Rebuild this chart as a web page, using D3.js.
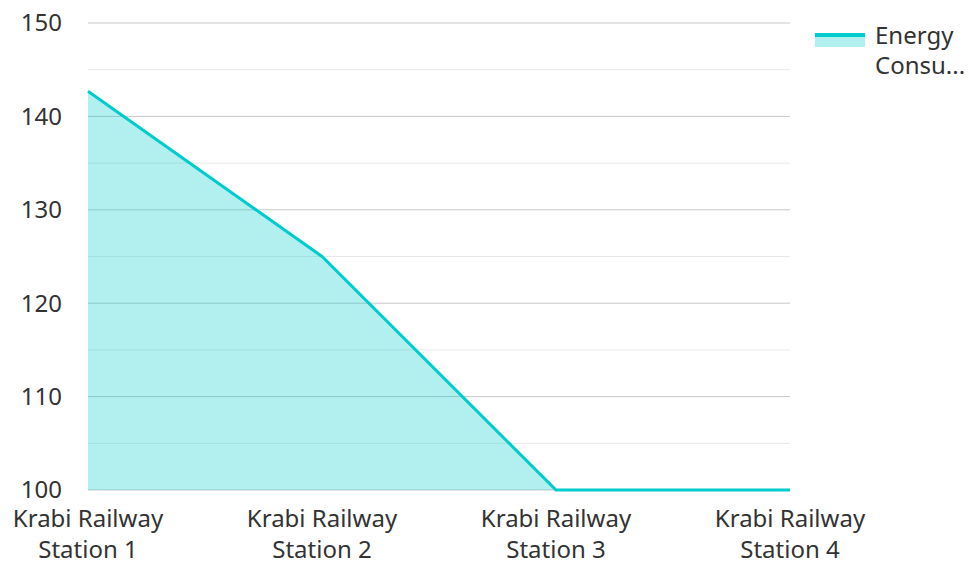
<!DOCTYPE html>
<html>
<head>
<meta charset="utf-8">
<script src="https://cdn.jsdelivr.net/npm/d3@7"></script>
<style>
  body { margin: 0; background: #fff; }
  text { font-family: "Noto Sans", "Open Sans", sans-serif; fill: #333; }
</style>
</head>
<body>
<svg id="chart" width="969" height="562"></svg>
<script>
// data
const stations = ['Krabi Railway Station 1', 'Krabi Railway Station 2', 'Krabi Railway Station 3', 'Krabi Railway Station 4'];
const energy = [142.7, 125, 100, 100];
const seriesName = 'Energy Consumption';
const yTicks = [100, 110, 120, 130, 140, 150];
const yMinor = [105, 115, 125, 135, 145];

const margin = {top: 23, left: 88, right: 179, bottom: 72};
const W = 969, H = 562;
const svg = d3.select('#chart');
const color = '#00cccc';
const fs = 24;

const x = d3.scalePoint().domain(stations).range([margin.left, W - margin.right]);
const y = d3.scaleLinear().domain([100, 150]).range([H - margin.bottom, margin.top]);

// grid
svg.append('g').selectAll('line').data(yMinor).join('line')
  .attr('x1', margin.left).attr('x2', W - margin.right)
  .attr('y1', d => y(d)).attr('y2', d => y(d))
  .attr('stroke', '#e8e8e8').attr('stroke-width', 1);
svg.append('g').selectAll('line').data(yTicks).join('line')
  .attr('x1', margin.left).attr('x2', W - margin.right)
  .attr('y1', d => y(d)).attr('y2', d => y(d))
  .attr('stroke', '#c8c8c8').attr('stroke-width', 1);

// y labels
svg.append('g').selectAll('text').data(yTicks).join('text')
  .attr('x', 62).attr('y', d => y(d)).attr('dy', '0.35em')
  .attr('text-anchor', 'end').attr('font-size', fs)
  .text(d => d);

const pts = stations.map((s, i) => [s, energy[i]]);

// area + line
svg.append('path').datum(pts)
  .attr('fill', color).attr('fill-opacity', 0.3)
  .attr('d', d3.area().x(d => x(d[0])).y0(y(100)).y1(d => y(d[1])));
svg.append('path').datum(pts)
  .attr('fill', 'none').attr('stroke', color).attr('stroke-width', 3)
  .attr('d', d3.line().x(d => x(d[0])).y(d => y(d[1])));

// x labels, two lines
const xl = svg.append('g').selectAll('text').data(stations).join('text')
  .attr('text-anchor', 'middle').attr('font-size', fs);
xl.append('tspan').attr('x', d => x(d)).attr('y', 527).text(d => d.split(' ').slice(0, 2).join(' '));
xl.append('tspan').attr('x', d => x(d)).attr('y', 558).text(d => d.split(' ').slice(2).join(' '));

// legend
const lg = svg.append('g').attr('transform', 'translate(815,35)');
lg.append('rect').attr('x', 0).attr('y', 0).attr('width', 50).attr('height', 12)
  .attr('fill', color).attr('fill-opacity', 0.3);
lg.append('line').attr('x1', 0).attr('x2', 50).attr('y1', 0).attr('y2', 0)
  .attr('stroke', color).attr('stroke-width', 4);
const lt = lg.append('text').attr('font-size', fs);
lt.append('tspan').attr('x', 60).attr('y', 9).text('Energy');
lt.append('tspan').attr('x', 60).attr('y', 39).text('Consu...');
</script>
</body>
</html>
